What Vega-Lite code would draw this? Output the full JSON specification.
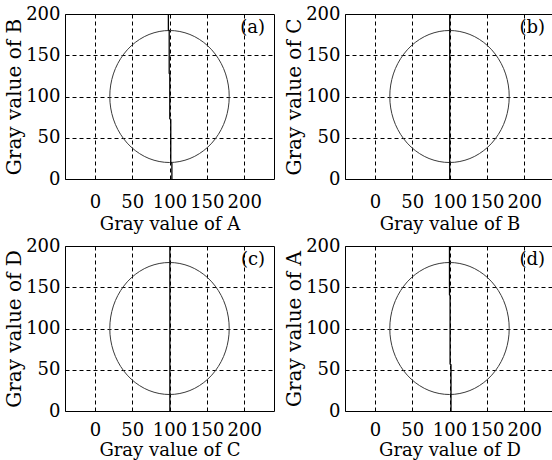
{
  "$schema": "https://vega.github.io/schema/vega-lite/v6.json",
  "padding": {"left": 4, "top": 4, "right": 0, "bottom": 0},
  "background": "white",
  "bounds": "flush",
  "spacing": {"row": 67, "column": 71},
  "columns": 2,
  "config": {
    "view": {"stroke": "black", "strokeWidth": 1},
    "axis": {
      "domain": false,
      "ticks": false,
      "grid": true,
      "gridColor": "black",
      "gridDash": [4, 3],
      "gridWidth": 1,
      "gridOpacity": 1,
      "labelFont": "DejaVu Serif",
      "labelFontSize": 18,
      "labelColor": "black",
      "titleFont": "DejaVu Serif",
      "titleFontSize": 18,
      "titleFontWeight": "normal",
      "titleColor": "black"
    },
    "axisX": {"labelPadding": 14, "titlePadding": 4, "values": [0, 50, 100, 150, 200]},
    "axisY": {"labelPadding": 5, "titlePadding": 1, "values": [0, 50, 100, 150, 200], "titleFontSize": 20}
  },
  "datasets": {
    "circle": [
      {"i": 0, "x": 180, "y": 100}, {"i": 1, "x": 179.7, "y": 106.97}, {"i": 2, "x": 178.78, "y": 113.89},
      {"i": 3, "x": 177.27, "y": 120.71}, {"i": 4, "x": 175.18, "y": 127.36}, {"i": 5, "x": 172.5, "y": 133.81},
      {"i": 6, "x": 169.28, "y": 140}, {"i": 7, "x": 165.53, "y": 145.89}, {"i": 8, "x": 161.28, "y": 151.42},
      {"i": 9, "x": 156.57, "y": 156.57}, {"i": 10, "x": 151.42, "y": 161.28}, {"i": 11, "x": 145.89, "y": 165.53},
      {"i": 12, "x": 140, "y": 169.28}, {"i": 13, "x": 133.81, "y": 172.5}, {"i": 14, "x": 127.36, "y": 175.18},
      {"i": 15, "x": 120.71, "y": 177.27}, {"i": 16, "x": 113.89, "y": 178.78}, {"i": 17, "x": 106.97, "y": 179.7},
      {"i": 18, "x": 100, "y": 180}, {"i": 19, "x": 93.03, "y": 179.7}, {"i": 20, "x": 86.11, "y": 178.78},
      {"i": 21, "x": 79.29, "y": 177.27}, {"i": 22, "x": 72.64, "y": 175.18}, {"i": 23, "x": 66.19, "y": 172.5},
      {"i": 24, "x": 60, "y": 169.28}, {"i": 25, "x": 54.11, "y": 165.53}, {"i": 26, "x": 48.58, "y": 161.28},
      {"i": 27, "x": 43.43, "y": 156.57}, {"i": 28, "x": 38.72, "y": 151.42}, {"i": 29, "x": 34.47, "y": 145.89},
      {"i": 30, "x": 30.72, "y": 140}, {"i": 31, "x": 27.5, "y": 133.81}, {"i": 32, "x": 24.82, "y": 127.36},
      {"i": 33, "x": 22.73, "y": 120.71}, {"i": 34, "x": 21.22, "y": 113.89}, {"i": 35, "x": 20.3, "y": 106.97},
      {"i": 36, "x": 20, "y": 100}, {"i": 37, "x": 20.3, "y": 93.03}, {"i": 38, "x": 21.22, "y": 86.11},
      {"i": 39, "x": 22.73, "y": 79.29}, {"i": 40, "x": 24.82, "y": 72.64}, {"i": 41, "x": 27.5, "y": 66.19},
      {"i": 42, "x": 30.72, "y": 60}, {"i": 43, "x": 34.47, "y": 54.11}, {"i": 44, "x": 38.72, "y": 48.58},
      {"i": 45, "x": 43.43, "y": 43.43}, {"i": 46, "x": 48.58, "y": 38.72}, {"i": 47, "x": 54.11, "y": 34.47},
      {"i": 48, "x": 60, "y": 30.72}, {"i": 49, "x": 66.19, "y": 27.5}, {"i": 50, "x": 72.64, "y": 24.82},
      {"i": 51, "x": 79.29, "y": 22.73}, {"i": 52, "x": 86.11, "y": 21.22}, {"i": 53, "x": 93.03, "y": 20.3},
      {"i": 54, "x": 100, "y": 20}, {"i": 55, "x": 106.97, "y": 20.3}, {"i": 56, "x": 113.89, "y": 21.22},
      {"i": 57, "x": 120.71, "y": 22.73}, {"i": 58, "x": 127.36, "y": 24.82}, {"i": 59, "x": 133.81, "y": 27.5},
      {"i": 60, "x": 140, "y": 30.72}, {"i": 61, "x": 145.89, "y": 34.47}, {"i": 62, "x": 151.42, "y": 38.72},
      {"i": 63, "x": 156.57, "y": 43.43}, {"i": 64, "x": 161.28, "y": 48.58}, {"i": 65, "x": 165.53, "y": 54.11},
      {"i": 66, "x": 169.28, "y": 60}, {"i": 67, "x": 172.5, "y": 66.19}, {"i": 68, "x": 175.18, "y": 72.64},
      {"i": 69, "x": 177.27, "y": 79.29}, {"i": 70, "x": 178.78, "y": 86.11}, {"i": 71, "x": 179.7, "y": 93.03},
      {"i": 72, "x": 180, "y": 100}
    ],
    "line_a": [
      {"i": 0, "x": 98.5, "y": 200}, {"i": 1, "x": 98.5, "y": 181}, {"i": 2, "x": 99.6, "y": 180},
      {"i": 3, "x": 99.6, "y": 128}, {"i": 4, "x": 100.4, "y": 127}, {"i": 5, "x": 100.4, "y": 73},
      {"i": 6, "x": 101.7, "y": 72}, {"i": 7, "x": 101.7, "y": 20}, {"i": 8, "x": 103.2, "y": 19},
      {"i": 9, "x": 103.2, "y": 0}
    ],
    "line_b": [{"i": 0, "x": 100.3, "y": 200}, {"i": 1, "x": 100.3, "y": 0}],
    "line_c": [{"i": 0, "x": 100.5, "y": 200}, {"i": 1, "x": 100.5, "y": 0}],
    "line_d": [
      {"i": 0, "x": 100, "y": 200}, {"i": 1, "x": 100, "y": 141}, {"i": 2, "x": 100.8, "y": 140},
      {"i": 3, "x": 100.8, "y": 57}, {"i": 4, "x": 102, "y": 56}, {"i": 5, "x": 102, "y": 0}
    ],
    "label_a": [{"x": 228, "y": 183, "t": "(a)"}],
    "label_b": [{"x": 228, "y": 183, "t": "(b)"}],
    "label_c": [{"x": 228, "y": 183, "t": "(c)"}],
    "label_d": [{"x": 228, "y": 183, "t": "(d)"}]
  },
  "concat": [
    {
      "width": 209, "height": 165,
      "layer": [
        {"data": {"name": "circle"}, "mark": {"type": "line", "color": "#3a3a3a", "strokeWidth": 1},
         "encoding": {"x": {"field": "x", "type": "quantitative", "scale": {"domain": [-30, 232]}, "title": "Gray value of A"},
                      "y": {"field": "y", "type": "quantitative", "scale": {"domain": [0, 200]}, "title": "Gray value of B"},
                      "order": {"field": "i"}}},
        {"data": {"name": "line_a"}, "mark": {"type": "line", "color": "black", "strokeWidth": 1.3},
         "encoding": {"x": {"field": "x", "type": "quantitative"}, "y": {"field": "y", "type": "quantitative"}, "order": {"field": "i"}}},
        {"data": {"name": "label_a"}, "mark": {"type": "text", "align": "right", "baseline": "middle", "font": "DejaVu Serif", "fontSize": 18, "color": "black"},
         "encoding": {"x": {"field": "x", "type": "quantitative"}, "y": {"field": "y", "type": "quantitative"}, "text": {"field": "t"}}}
      ]
    },
    {
      "width": 209, "height": 165,
      "layer": [
        {"data": {"name": "circle"}, "mark": {"type": "line", "color": "#3a3a3a", "strokeWidth": 1},
         "encoding": {"x": {"field": "x", "type": "quantitative", "scale": {"domain": [-30, 232]}, "title": "Gray value of B"},
                      "y": {"field": "y", "type": "quantitative", "scale": {"domain": [0, 200]}, "title": "Gray value of C"},
                      "order": {"field": "i"}}},
        {"data": {"name": "line_b"}, "mark": {"type": "line", "color": "black", "strokeWidth": 1.3},
         "encoding": {"x": {"field": "x", "type": "quantitative"}, "y": {"field": "y", "type": "quantitative"}, "order": {"field": "i"}}},
        {"data": {"name": "label_b"}, "mark": {"type": "text", "align": "right", "baseline": "middle", "font": "DejaVu Serif", "fontSize": 18, "color": "black"},
         "encoding": {"x": {"field": "x", "type": "quantitative"}, "y": {"field": "y", "type": "quantitative"}, "text": {"field": "t"}}}
      ]
    },
    {
      "width": 209, "height": 165,
      "layer": [
        {"data": {"name": "circle"}, "mark": {"type": "line", "color": "#3a3a3a", "strokeWidth": 1},
         "encoding": {"x": {"field": "x", "type": "quantitative", "scale": {"domain": [-30, 232]}, "title": "Gray value of C", "axis": {"labelPadding": 10, "titlePadding": 2}},
                      "y": {"field": "y", "type": "quantitative", "scale": {"domain": [0, 200]}, "title": "Gray value of D"},
                      "order": {"field": "i"}}},
        {"data": {"name": "line_c"}, "mark": {"type": "line", "color": "black", "strokeWidth": 1.3},
         "encoding": {"x": {"field": "x", "type": "quantitative"}, "y": {"field": "y", "type": "quantitative"}, "order": {"field": "i"}}},
        {"data": {"name": "label_c"}, "mark": {"type": "text", "align": "right", "baseline": "middle", "font": "DejaVu Serif", "fontSize": 18, "color": "black"},
         "encoding": {"x": {"field": "x", "type": "quantitative"}, "y": {"field": "y", "type": "quantitative"}, "text": {"field": "t"}}}
      ]
    },
    {
      "width": 209, "height": 165,
      "layer": [
        {"data": {"name": "circle"}, "mark": {"type": "line", "color": "#3a3a3a", "strokeWidth": 1},
         "encoding": {"x": {"field": "x", "type": "quantitative", "scale": {"domain": [-30, 232]}, "title": "Gray value of D", "axis": {"labelPadding": 10, "titlePadding": 2}},
                      "y": {"field": "y", "type": "quantitative", "scale": {"domain": [0, 200]}, "title": "Gray value of A"},
                      "order": {"field": "i"}}},
        {"data": {"name": "line_d"}, "mark": {"type": "line", "color": "black", "strokeWidth": 1.3},
         "encoding": {"x": {"field": "x", "type": "quantitative"}, "y": {"field": "y", "type": "quantitative"}, "order": {"field": "i"}}},
        {"data": {"name": "label_d"}, "mark": {"type": "text", "align": "right", "baseline": "middle", "font": "DejaVu Serif", "fontSize": 18, "color": "black"},
         "encoding": {"x": {"field": "x", "type": "quantitative"}, "y": {"field": "y", "type": "quantitative"}, "text": {"field": "t"}}}
      ]
    }
  ]
}
